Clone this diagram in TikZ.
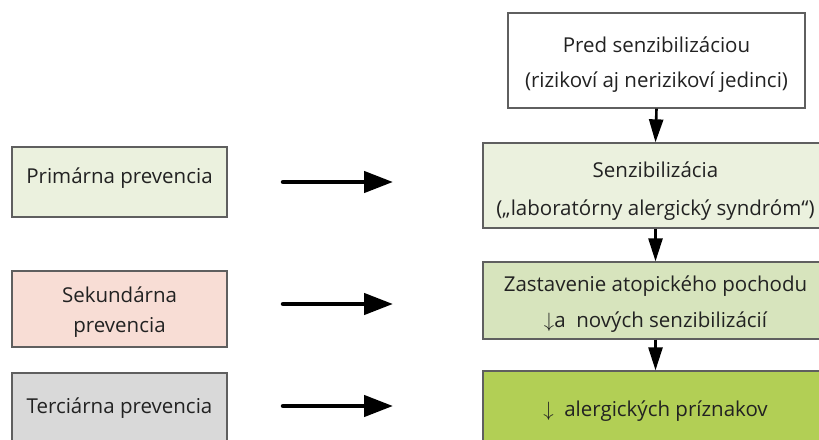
\documentclass[tikz,border=0pt]{standalone}
\usepackage{fontspec}
\setmainfont{Open Sans}
\usetikzlibrary{arrows.meta}
\definecolor{edgegray}{HTML}{5F5F5F}
\definecolor{txt}{HTML}{222222}
\definecolor{greenA}{HTML}{EBF1DE}
\definecolor{greenB}{HTML}{D7E4BD}
\definecolor{greenC}{HTML}{B2CF55}
\definecolor{pinkA}{HTML}{F8DDD5}
\definecolor{grayA}{HTML}{D9D9D9}
\tikzset{
  box/.style={draw=edgegray, line width=1.3pt, rectangle, inner sep=0pt},
  stagebox/.style={box, minimum width=345pt},
  prevbox/.style={box, minimum width=215pt},
  % text blocks are placed by the baseline of their last line
  lbl/.style={inner sep=0pt, anchor=base, align=center, text=txt,
    font=\fontsize{20.5}{36}\selectfont},
  downarrow/.style={draw=black, line width=2.6pt,
    -{Triangle[length=23pt,width=14pt]}},
  bigarrow/.style={draw=black, line width=4.5pt, line cap=round,
    -{Triangle[length=29pt,width=21pt]}},
}
\begin{document}
\begin{tikzpicture}[x=1pt,y=-1pt]
\useasboundingbox (0,0) rectangle (819,439);
\clip (0,0) rectangle (819,439);

% stages of the allergic march
\node[box, fill=white, minimum width=297pt, minimum height=95pt] (B1) at (656.5,60.5) {};
\node[stagebox, fill=greenA, minimum height=85pt] (B2) at (655.5,185.5) {};
\node[stagebox, fill=greenB, minimum height=77pt] (B3) at (655.5,300.5) {};
\node[stagebox, fill=greenC, minimum height=77pt] (B4) at (655.5,409.5) {};
\node[lbl, font=\fontsize{20.5}{35}\selectfont] (B1t) at (656.5,87)
  {Pred senzibilizáciou\\(rizikoví aj nerizikoví jedinci)};
\node[lbl, font=\fontsize{20.5}{38}\selectfont] (B2t) at (655.5,215)
  {Senzibilizácia\\(„laboratórny alergický syndróm“)};
\node[lbl] (B3t) at (655.5,327)
  {Zastavenie atopického pochodu\\$\downarrow$a\ \ nových senzibilizácií};
\node[lbl] (B4t) at (655.5,416)
  {$\downarrow$\ \ alergických príznakov};

% levels of prevention
\node[prevbox, fill=greenA, minimum height=70pt] (P) at (119.5,182) {};
\node[prevbox, fill=pinkA, minimum height=76pt] (S) at (119.5,309) {};
\node[prevbox, fill=grayA, minimum height=74pt] (T) at (119.5,410) {};
\node[lbl] (Pt) at (119.5,183) {Primárna prevencia};
\node[lbl, font=\fontsize{20.5}{29.5}\selectfont] (St) at (119.5,332) {Sekundárna\\prevencia};
\node[lbl] (Tt) at (119.5,413) {Terciárna prevencia};

% vertical flow
\draw[downarrow] (B1.south) -- (B2.north);
\draw[downarrow] (B2.south) -- (B3.north);
\draw[downarrow] (B3.south) -- (B4.north);

% prevention arrows
\coordinate (p1) at (283,182);  \coordinate (q1) at (393,182);
\coordinate (p2) at (283,304);  \coordinate (q2) at (393,304);
\coordinate (p3) at (283,406);  \coordinate (q3) at (393,406);
\draw[bigarrow] (p1) -- (q1);
\draw[bigarrow] (p2) -- (q2);
\draw[bigarrow] (p3) -- (q3);
\end{tikzpicture}
\end{document}
